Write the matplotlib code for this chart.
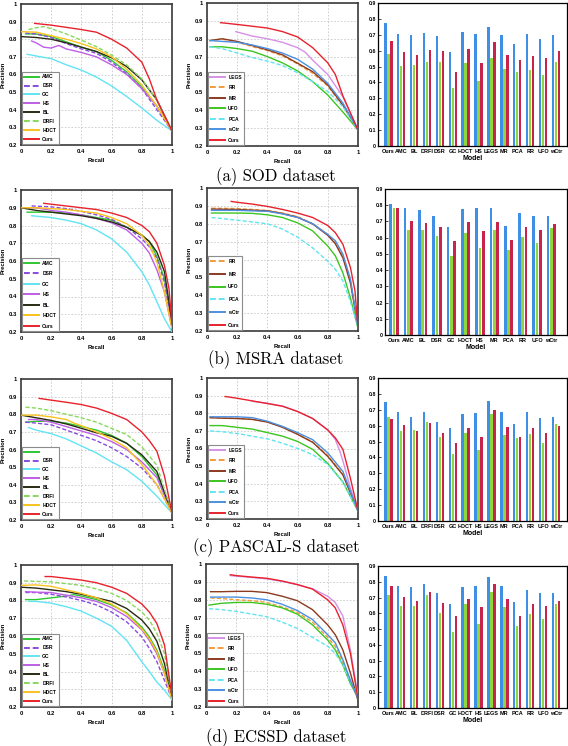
import matplotlib
matplotlib.use("Agg")
import matplotlib.pyplot as plt
from matplotlib.lines import Line2D
from matplotlib.font_manager import FontProperties

W, H = 568, 746

# ---------------- method styles ----------------
STYLE = {
    "AMC": ("#2fc72f", "-"),
    "DSR": ("#8a4be0", (0, (3, 1.5))),
    "GC": ("#62e4f4", "-"),
    "HS": ("#bf5ee6", "-"),
    "BL": ("#2a2a14", "-"),
    "DRFI": ("#86d95a", (0, (3, 1.5))),
    "HDCT": ("#f8c31e", "-"),
    "Ours": ("#e8222c", "-"),
    "LEGS": ("#d690e6", "-"),
    "RR": ("#f39a3a", (0, (3, 1.5))),
    "MR": ("#8c3a1f", "-"),
    "UFO": ("#3cc51f", "-"),
    "PCA": ("#62e4f0", (0, (3, 1.5))),
    "wCtr": ("#4b90e3", "-"),
}

# ---------------- PR curves: SOD ----------------
sod_left = {
    "AMC": ([0.03, 0.1, 0.2, 0.3, 0.4, 0.5, 0.6, 0.7, 0.8, 0.9, 1.0],
            [0.83, 0.83, 0.815, 0.785, 0.755, 0.73, 0.68, 0.615, 0.53, 0.42, 0.28]),
    "DSR": ([0.03, 0.1, 0.2, 0.3, 0.4, 0.5, 0.6, 0.7, 0.8, 0.9, 1.0],
            [0.835, 0.83, 0.81, 0.775, 0.745, 0.72, 0.67, 0.605, 0.52, 0.40, 0.28]),
    "GC": ([0.04, 0.1, 0.2, 0.3, 0.4, 0.5, 0.6, 0.7, 0.8, 0.9, 1.0],
           [0.715, 0.705, 0.69, 0.655, 0.625, 0.585, 0.535, 0.475, 0.41, 0.34, 0.28]),
    "HS": ([0.07, 0.1, 0.15, 0.2, 0.25, 0.3, 0.4, 0.5, 0.6, 0.7, 0.8, 0.9, 1.0],
           [0.79, 0.78, 0.755, 0.75, 0.765, 0.745, 0.725, 0.70, 0.655, 0.60, 0.52, 0.42, 0.28]),
    "BL": ([0.0, 0.1, 0.2, 0.3, 0.4, 0.5, 0.6, 0.7, 0.8, 0.9, 1.0],
           [0.815, 0.81, 0.80, 0.78, 0.755, 0.73, 0.695, 0.645, 0.57, 0.455, 0.28]),
    "DRFI": ([0.05, 0.1, 0.15, 0.2, 0.3, 0.4, 0.5, 0.6, 0.7, 0.8, 0.9, 1.0],
             [0.855, 0.865, 0.872, 0.86, 0.83, 0.795, 0.758, 0.71, 0.654, 0.575, 0.455, 0.28]),
    "HDCT": ([0.0, 0.1, 0.2, 0.3, 0.4, 0.5, 0.6, 0.7, 0.8, 0.9, 1.0],
             [0.843, 0.84, 0.82, 0.80, 0.775, 0.745, 0.70, 0.63, 0.54, 0.42, 0.28]),
    "Ours": ([0.09, 0.2, 0.4, 0.5, 0.6, 0.7, 0.8, 0.85, 0.9, 1.0],
             [0.89, 0.88, 0.855, 0.84, 0.80, 0.75, 0.67, 0.575, 0.455, 0.28]),
}
sod_right = {
    "LEGS": ([0.19, 0.3, 0.4, 0.5, 0.6, 0.65, 0.7, 0.8, 0.9, 1.0],
             [0.84, 0.815, 0.80, 0.78, 0.75, 0.725, 0.68, 0.60, 0.475, 0.29]),
    "RR": ([0.02, 0.1, 0.2, 0.3, 0.4, 0.5, 0.6, 0.7, 0.8, 0.9, 1.0],
           [0.79, 0.798, 0.781, 0.756, 0.734, 0.704, 0.659, 0.607, 0.535, 0.423, 0.29]),
    "MR": ([0.02, 0.1, 0.2, 0.3, 0.4, 0.5, 0.6, 0.7, 0.8, 0.9, 1.0],
           [0.79, 0.80, 0.785, 0.762, 0.738, 0.71, 0.663, 0.616, 0.541, 0.429, 0.29]),
    "UFO": ([0.02, 0.1, 0.2, 0.3, 0.4, 0.5, 0.6, 0.7, 0.8, 0.9, 1.0],
            [0.755, 0.755, 0.745, 0.73, 0.70, 0.665, 0.62, 0.56, 0.485, 0.39, 0.29]),
    "PCA": ([0.02, 0.1, 0.2, 0.3, 0.4, 0.5, 0.6, 0.7, 0.8, 0.9, 1.0],
            [0.755, 0.745, 0.72, 0.695, 0.675, 0.65, 0.61, 0.56, 0.505, 0.42, 0.29]),
    "wCtr": ([0.02, 0.1, 0.2, 0.3, 0.4, 0.5, 0.6, 0.7, 0.8, 0.9, 1.0],
             [0.79, 0.785, 0.78, 0.765, 0.745, 0.72, 0.685, 0.63, 0.55, 0.44, 0.29]),
    "Ours": ([0.09, 0.2, 0.4, 0.5, 0.6, 0.7, 0.8, 0.85, 0.9, 1.0],
             [0.89, 0.88, 0.86, 0.84, 0.81, 0.75, 0.665, 0.60, 0.48, 0.29]),
}

# ---------------- PR curves: MSRA ----------------
R13 = [0.1, 0.2, 0.3, 0.4, 0.5, 0.6, 0.7, 0.8, 0.85, 0.9, 0.95, 1.0]
msra_left = {
    "AMC": ([0.04] + R13, [0.875, 0.875, 0.875, 0.87, 0.86, 0.845, 0.83, 0.79, 0.745, 0.71, 0.625, 0.50, 0.24]),
    "DSR": ([0.07] + R13[1:], [0.91, 0.905, 0.895, 0.88, 0.86, 0.835, 0.79, 0.725, 0.68, 0.615, 0.48, 0.24]),
    "GC": ([0.07] + R13[1:], [0.855, 0.845, 0.83, 0.81, 0.775, 0.725, 0.65, 0.54, 0.465, 0.37, 0.275, 0.2]),
    "HS": ([0.05] + R13, [0.90, 0.90, 0.885, 0.875, 0.86, 0.84, 0.815, 0.775, 0.70, 0.645, 0.55, 0.425, 0.22]),
    "BL": ([0.0] + R13, [0.90, 0.885, 0.875, 0.865, 0.855, 0.84, 0.82, 0.79, 0.745, 0.71, 0.65, 0.54, 0.255]),
    "HDCT": ([0.0] + R13, [0.90, 0.90, 0.895, 0.89, 0.88, 0.87, 0.845, 0.81, 0.745, 0.69, 0.595, 0.425, 0.22]),
    "Ours": ([0.15, 0.2, 0.3, 0.4, 0.5, 0.6, 0.7, 0.8, 0.85, 0.9, 0.95, 0.98, 1.0],
             [0.925, 0.92, 0.91, 0.90, 0.89, 0.87, 0.845, 0.80, 0.765, 0.70, 0.575, 0.445, 0.24]),
}
msra_right = {
    "RR": ([0.03] + R13[1:], [0.887, 0.885, 0.88, 0.875, 0.86, 0.84, 0.80, 0.74, 0.695, 0.62, 0.48, 0.235]),
    "MR": ([0.03] + R13[1:], [0.882, 0.88, 0.876, 0.872, 0.857, 0.836, 0.799, 0.735, 0.688, 0.609, 0.468, 0.224]),
    "UFO": ([0.03] + R13[1:], [0.86, 0.86, 0.858, 0.85, 0.835, 0.805, 0.76, 0.675, 0.62, 0.525, 0.385, 0.215]),
    "PCA": ([0.03] + R13[1:], [0.835, 0.82, 0.81, 0.80, 0.77, 0.725, 0.665, 0.59, 0.545, 0.48, 0.365, 0.224]),
    "wCtr": ([0.03] + R13[1:], [0.875, 0.875, 0.872, 0.87, 0.855, 0.835, 0.80, 0.74, 0.705, 0.63, 0.49, 0.224]),
    "Ours": ([0.16, 0.2, 0.3, 0.4, 0.5, 0.6, 0.7, 0.8, 0.85, 0.9, 0.95, 0.98, 1.0],
             [0.925, 0.92, 0.91, 0.897, 0.88, 0.86, 0.835, 0.79, 0.75, 0.685, 0.555, 0.425, 0.215]),
}

# ---------------- PR curves: PASCAL-S ----------------
R11 = [0.1, 0.2, 0.3, 0.4, 0.5, 0.6, 0.7, 0.8, 0.9, 1.0]
pascal_left = {
    "AMC": ([0.03] + R11, [0.755, 0.76, 0.76, 0.75, 0.73, 0.71, 0.68, 0.635, 0.56, 0.455, 0.24]),
    "DSR": ([0.03] + R11, [0.755, 0.75, 0.74, 0.71, 0.68, 0.65, 0.61, 0.56, 0.495, 0.40, 0.24]),
    "GC": ([0.05] + R11, [0.725, 0.71, 0.69, 0.66, 0.62, 0.58, 0.53, 0.485, 0.42, 0.335, 0.24]),
    "HS": ([0.05] + R11, [0.77, 0.77, 0.755, 0.73, 0.705, 0.68, 0.645, 0.60, 0.53, 0.44, 0.24]),
    "BL": ([0.0] + R11, [0.795, 0.78, 0.765, 0.745, 0.72, 0.695, 0.675, 0.635, 0.57, 0.475, 0.24]),
    "DRFI": ([0.03] + R11, [0.84, 0.835, 0.82, 0.80, 0.78, 0.755, 0.72, 0.685, 0.615, 0.51, 0.24]),
    "HDCT": ([0.0, 0.1, 0.2, 0.3, 0.35, 0.4, 0.5, 0.6, 0.7, 0.8, 0.9, 1.0],
             [0.795, 0.795, 0.785, 0.77, 0.75, 0.735, 0.70, 0.66, 0.61, 0.515, 0.40, 0.24]),
    "Ours": ([0.12, 0.2, 0.3, 0.4, 0.5, 0.6, 0.7, 0.8, 0.85, 0.9, 0.95, 1.0],
             [0.89, 0.88, 0.868, 0.855, 0.835, 0.805, 0.77, 0.70, 0.65, 0.59, 0.45, 0.24]),
}
pascal_right = {
    "LEGS": ([0.3, 0.4, 0.5, 0.6, 0.7, 0.8, 0.85, 0.88, 0.9, 0.95, 1.0],
             [0.868, 0.857, 0.84, 0.81, 0.77, 0.705, 0.65, 0.585, 0.53, 0.375, 0.245]),
    "RR": ([0.02] + R11, [0.775, 0.774, 0.772, 0.766, 0.75, 0.725, 0.683, 0.637, 0.56, 0.455, 0.245]),
    "MR": ([0.02] + R11, [0.775, 0.772, 0.77, 0.765, 0.75, 0.72, 0.68, 0.635, 0.555, 0.45, 0.245]),
    "UFO": ([0.02] + R11, [0.73, 0.73, 0.72, 0.71, 0.69, 0.67, 0.64, 0.595, 0.515, 0.41, 0.245]),
    "PCA": ([0.02] + R11, [0.70, 0.695, 0.685, 0.67, 0.655, 0.63, 0.60, 0.565, 0.51, 0.41, 0.245]),
    "wCtr": ([0.02] + R11, [0.78, 0.78, 0.78, 0.775, 0.755, 0.725, 0.69, 0.65, 0.575, 0.47, 0.245]),
    "Ours": ([0.12, 0.2, 0.3, 0.4, 0.5, 0.6, 0.7, 0.8, 0.85, 0.9, 0.95, 1.0],
             [0.895, 0.885, 0.87, 0.855, 0.84, 0.81, 0.77, 0.705, 0.66, 0.595, 0.43, 0.245]),
}

# ---------------- PR curves: ECSSD ----------------
ecssd_left = {
    "AMC": ([0.03, 0.1, 0.2, 0.3, 0.35, 0.4, 0.5, 0.6, 0.7, 0.8, 0.85, 0.9, 0.95, 1.0],
            [0.805, 0.805, 0.815, 0.825, 0.833, 0.825, 0.805, 0.775, 0.73, 0.65, 0.595, 0.52, 0.405, 0.245]),
    "DSR": ([0.03] + R13, [0.845, 0.845, 0.835, 0.82, 0.80, 0.775, 0.735, 0.68, 0.595, 0.53, 0.455, 0.35, 0.245]),
    "GC": ([0.05] + R13, [0.795, 0.795, 0.785, 0.765, 0.74, 0.70, 0.655, 0.575, 0.455, 0.40, 0.34, 0.295, 0.24]),
    "HS": ([0.03] + R13, [0.85, 0.847, 0.845, 0.83, 0.815, 0.795, 0.76, 0.71, 0.635, 0.575, 0.50, 0.39, 0.245]),
    "BL": ([0.0] + R13, [0.875, 0.87, 0.86, 0.85, 0.835, 0.815, 0.795, 0.755, 0.69, 0.64, 0.57, 0.445, 0.25]),
    "DRFI": ([0.02] + R13[1:], [0.91, 0.905, 0.895, 0.885, 0.865, 0.84, 0.80, 0.735, 0.69, 0.615, 0.50, 0.25]),
    "HDCT": ([0.0] + R13, [0.885, 0.888, 0.88, 0.86, 0.84, 0.815, 0.78, 0.725, 0.64, 0.585, 0.51, 0.39, 0.24]),
    "Ours": ([0.16] + R13[1:], [0.935, 0.935, 0.925, 0.915, 0.90, 0.875, 0.84, 0.78, 0.735, 0.67, 0.55, 0.26]),
}
ecssd_right = {
    "LEGS": ([0.16] + R13[1:], [0.935, 0.932, 0.925, 0.917, 0.903, 0.885, 0.862, 0.82, 0.785, 0.71, 0.52, 0.26]),
    "RR": ([0.03] + R13, [0.81, 0.807, 0.80, 0.795, 0.785, 0.76, 0.73, 0.675, 0.59, 0.54, 0.455, 0.34, 0.245]),
    "MR": ([0.03] + R13, [0.845, 0.845, 0.847, 0.847, 0.84, 0.82, 0.795, 0.745, 0.66, 0.605, 0.52, 0.39, 0.235]),
    "UFO": ([0.02] + R13, [0.77, 0.78, 0.785, 0.785, 0.775, 0.755, 0.72, 0.66, 0.575, 0.52, 0.435, 0.33, 0.255]),
    "PCA": ([0.02] + R13, [0.75, 0.745, 0.735, 0.72, 0.705, 0.675, 0.64, 0.59, 0.54, 0.50, 0.435, 0.34, 0.255]),
    "wCtr": ([0.03] + R13, [0.815, 0.815, 0.815, 0.81, 0.80, 0.775, 0.74, 0.69, 0.605, 0.56, 0.465, 0.35, 0.245]),
    "Ours": ([0.16] + R13[1:], [0.94, 0.935, 0.927, 0.92, 0.905, 0.885, 0.86, 0.80, 0.755, 0.66, 0.50, 0.245]),
}

# legend entries (method, shown text)
leg_sod_left = [("AMC", "AMC"), ("DSR", "DSR"), ("GC", "GC"), ("HS", "HS"), ("BL", "BL"),
                ("DRFI", "DRFI"), ("HDCT", "HDCT"), ("Ours", "Ours")]
leg_right7 = [("LEGS", "LEGS"), ("RR", "RR"), ("MR", "MR"), ("UFO", "UFO"), ("PCA", "PCA"),
              ("wCtr", "wCtr"), ("Ours", "Ours")]
leg_msra_left = [("AMC", "AMC"), ("DSR", "DSR"), ("GC", "GC"), ("HS", "HS"), ("BL", "BL"),
                 ("HDCT", "HDCT"), ("Ours", "Ours")]
leg_msra_right = [("RR", "RR"), ("MR", "MR"), ("UFO", "UFO"), ("PCA", "PCA"), ("wCtr", "wCtr"),
                  ("Ours", "Ours")]
leg_pascal_left = [("AMC", ""), ("DSR", "DSR"), ("GC", "GC"), ("HS", "HS"), ("BL", "BL"),
                   ("DRFI", "DRFI"), ("HDCT", "HDCT"), ("Ours", "Ours")]

# ---------------- bar data (three measures per model) ----------------
models14 = ["Ours", "AMC", "BL", "DRFI", "DSR", "GC", "HDCT", "HS", "LEGS", "MR", "PCA", "RR", "UFO", "wCtr"]
models12 = ["Ours", "AMC", "BL", "DSR", "GC", "HDCT", "HS", "MR", "PCA", "RR", "UFO", "wCtr"]

sod_blue = [0.773, 0.705, 0.699, 0.712, 0.693, 0.589, 0.72, 0.705, 0.747, 0.701, 0.644, 0.703, 0.674, 0.699]
sod_green = [0.579, 0.505, 0.507, 0.528, 0.531, 0.362, 0.522, 0.408, 0.552, 0.482, 0.467, 0.48, 0.448, 0.531]
sod_red = [0.661, 0.589, 0.573, 0.602, 0.598, 0.463, 0.611, 0.524, 0.653, 0.571, 0.541, 0.568, 0.552, 0.598]

msra_blue = [0.808, 0.781, 0.771, 0.733, 0.667, 0.775, 0.781, 0.781, 0.673, 0.75, 0.733, 0.733]
msra_green = [0.785, 0.65, 0.65, 0.61, 0.485, 0.629, 0.537, 0.646, 0.525, 0.606, 0.567, 0.66]
msra_red = [0.781, 0.704, 0.692, 0.667, 0.577, 0.698, 0.642, 0.698, 0.583, 0.663, 0.65, 0.683]

pascal_blue = [0.746, 0.683, 0.657, 0.683, 0.624, 0.586, 0.672, 0.679, 0.757, 0.683, 0.609, 0.683, 0.651, 0.657]
pascal_green = [0.657, 0.567, 0.573, 0.624, 0.526, 0.419, 0.556, 0.448, 0.672, 0.541, 0.522, 0.545, 0.49, 0.613]
pascal_red = [0.645, 0.603, 0.567, 0.615, 0.552, 0.488, 0.584, 0.529, 0.70, 0.592, 0.531, 0.588, 0.552, 0.598]

ecssd_blue = [0.837, 0.776, 0.766, 0.785, 0.732, 0.66, 0.77, 0.776, 0.831, 0.776, 0.669, 0.745, 0.732, 0.732]
ecssd_green = [0.717, 0.648, 0.648, 0.717, 0.605, 0.481, 0.66, 0.534, 0.736, 0.643, 0.517, 0.597, 0.565, 0.658]
ecssd_red = [0.774, 0.703, 0.681, 0.736, 0.665, 0.584, 0.692, 0.639, 0.787, 0.692, 0.584, 0.66, 0.648, 0.679]

captions = ["(a) SOD dataset", "(b) MSRA dataset", "(c) PASCAL-S dataset", "(d) ECSSD dataset"]

# ---------------- drawing ----------------
BAR_COLORS = ("#3f8fe6", "#8cd63f", "#c8234b")
SANS = "Liberation Sans"

fig = plt.figure(figsize=(W / 100, H / 100), dpi=100)


def add_ax(x0, y0, x1, y1):
    return fig.add_axes([x0 / W, 1 - y1 / H, (x1 - x0) / W, (y1 - y0) / H])


def pr_panel(box, curves, legend):
    ax = add_ax(*box)
    handles, texts = [], []
    for name, txt in legend:
        r, p = curves[name]
        c, ls = STYLE[name]
        ax.plot(r, p, color=c, ls=ls, lw=1.0, zorder=3)
        handles.append(Line2D([], [], color=c, ls=ls, lw=1.4))
        texts.append(txt)
    ax.set_xlim(0, 1)
    ax.set_ylim(0.2, 1)
    ax.set_xticks([0, 0.2, 0.4, 0.6, 0.8, 1.0])
    ax.set_xticklabels(["0", "0.2", "0.4", "0.6", "0.8", "1"])
    ax.set_yticks([0.2, 0.3, 0.4, 0.5, 0.6, 0.7, 0.8, 0.9, 1.0])
    ax.set_yticklabels(["0.2", "0.3", "0.4", "0.5", "0.6", "0.7", "0.8", "0.9", "1"])
    ax.grid(True, color="#c8c8c8", ls=(0, (2, 2)), lw=0.6)
    ax.tick_params(length=0, labelsize=4.2, pad=3)
    for lab in ax.get_xticklabels() + ax.get_yticklabels():
        lab.set_fontweight("bold")
        lab.set_family(SANS)
    for s in ax.spines.values():
        s.set_color("#3a3a3a")
        s.set_linewidth(1.2)
    ax.set_xlabel("Recall", fontsize=4.2, fontweight="bold", family=SANS, labelpad=2.5)
    ax.set_ylabel("Precision", fontsize=4.2, fontweight="bold", family=SANS, labelpad=2)
    n = len(legend)
    spacing = (68.0 / (n - 1) - 5.8) / 5.0
    leg = ax.legend(handles, texts, loc="lower left", bbox_to_anchor=(0, 0), borderaxespad=0.15,
                    prop=FontProperties(family=SANS, weight="bold", size=3.6),
                    handlelength=3.0, handletextpad=0.6, labelspacing=spacing, borderpad=0.5,
                    frameon=True, fancybox=False, framealpha=1)
    leg.get_frame().set_edgecolor("#8c8c8c")
    leg.get_frame().set_linewidth(0.8)
    return ax


def bar_panel(box, models, blue, green, red, xlim):
    ax = add_ax(*box)
    x = list(range(len(models)))
    w = 0.19
    ax.bar([i - 0.23 for i in x], blue, w, color=BAR_COLORS[0])
    ax.bar(x, green, w, color=BAR_COLORS[1])
    ax.bar([i + 0.23 for i in x], red, w, color=BAR_COLORS[2])
    ax.set_xlim(*xlim)
    ax.set_ylim(0, 0.9)
    ax.set_yticks([0, 0.1, 0.2, 0.3, 0.4, 0.5, 0.6, 0.7, 0.8, 0.9])
    ax.set_yticklabels(["0", "0.1", "0.2", "0.3", "0.4", "0.5", "0.6", "0.7", "0.8", "0.9"])
    ax.set_xticks(x)
    ax.set_xticklabels(models)
    ax.tick_params(axis="y", direction="in", length=2, width=0.5, labelsize=3.8, pad=1.5)
    ax.tick_params(axis="x", length=0, labelsize=4.0, pad=2)
    for lab in ax.get_xticklabels() + ax.get_yticklabels():
        lab.set_fontweight("bold")
        lab.set_family(SANS)
    for s in ax.spines.values():
        s.set_color("black")
        s.set_linewidth(0.9)
    ax.set_xlabel("Model", fontsize=5.0, fontweight="bold", family=SANS, labelpad=1)
    return ax


XL14 = (-0.8, 13.86)
XL12 = (-0.63, 12.09)

# row 1: SOD
pr_panel((21, 4, 172, 145), sod_left, leg_sod_left)
pr_panel((207, 3, 358, 146), sod_right, leg_right7)
bar_panel((378, 3, 567, 146), models14, sod_blue, sod_green, sod_red, XL14)

# row 2: MSRA
pr_panel((21, 190, 172, 332), msra_left, leg_msra_left)
pr_panel((207, 188, 358, 331), msra_right, leg_msra_right)
bar_panel((385, 189, 567, 335), models12, msra_blue, msra_green, msra_red, XL12)

# row 3: PASCAL-S
pr_panel((21, 379, 172, 520), pascal_left, leg_pascal_left)
pr_panel((207, 378, 358, 519), pascal_right, leg_right7)
bar_panel((378, 378, 567, 521), models14, pascal_blue, pascal_green, pascal_red, XL14)

# row 4: ECSSD
pr_panel((21, 565, 172, 707), ecssd_left, leg_sod_left)
pr_panel((206, 564, 358, 707), ecssd_right, leg_right7)
bar_panel((378, 566, 567, 708), models14, ecssd_blue, ecssd_green, ecssd_red, XL14)

for txt, yc in zip(captions, [177, 360, 548, 738]):
    fig.text(276 / W, 1 - yc / H, txt, ha="center", va="center", fontsize=12, family="cmr10")

fig.savefig("out.png", dpi=100)
